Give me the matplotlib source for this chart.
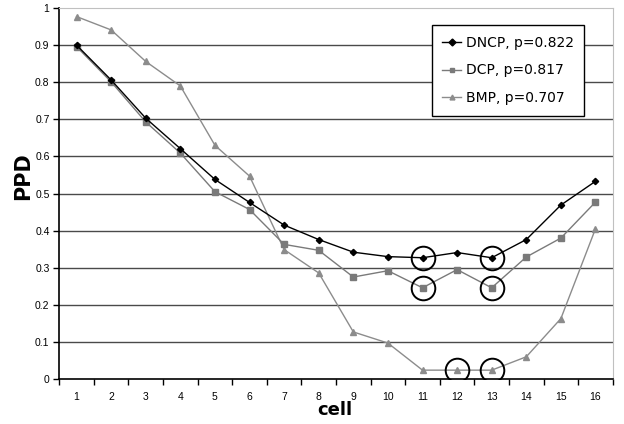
import matplotlib
matplotlib.use("Agg")
import matplotlib.pyplot as plt
from matplotlib.ticker import FixedLocator, NullFormatter

cells = list(range(1, 17))
dncp = [0.900, 0.806, 0.703, 0.621, 0.538, 0.476, 0.415, 0.376, 0.342, 0.330,
        0.327, 0.341, 0.327, 0.376, 0.469, 0.533]
dcp = [0.896, 0.801, 0.693, 0.609, 0.505, 0.457, 0.363, 0.347, 0.275, 0.292,
       0.246, 0.295, 0.246, 0.329, 0.380, 0.477]
bmp = [0.977, 0.941, 0.856, 0.790, 0.630, 0.547, 0.349, 0.286, 0.127, 0.097,
       0.024, 0.024, 0.024, 0.060, 0.163, 0.405]
labels = ["DNCP, p=0.822", "DCP, p=0.817", "BMP, p=0.707"]
circled = {"dncp": [11, 13], "dcp": [11, 13], "bmp": [12, 13]}
yticks = [0, 0.1, 0.2, 0.3, 0.4, 0.5, 0.6, 0.7, 0.8, 0.9, 1]
ytick_labels = ["0", "0.1", "0.2", "0.3", "0.4", "0.5", "0.6", "0.7", "0.8", "0.9", "1"]

fig = plt.figure(figsize=(6.24, 4.24), dpi=100)
ax = fig.add_axes([0.095, 0.106, 0.887, 0.875])

for y in yticks[1:-1]:
    ax.axhline(y, color="#4a4a4a", lw=1.0, zorder=1)

ax.plot(cells, bmp, color="#8c8c8c", lw=1.0, marker="^", ms=4.5,
        mfc="#8c8c8c", mec="#8c8c8c", label=labels[2], zorder=3)
ax.plot(cells, dcp, color="#7a7a7a", lw=1.0, marker="s", ms=4.0,
        mfc="#7a7a7a", mec="#7a7a7a", label=labels[1], zorder=4)
ax.plot(cells, dncp, color="black", lw=1.0, marker="D", ms=3.2,
        mfc="black", mec="black", label=labels[0], zorder=5)

series = {"dncp": dncp, "dcp": dcp, "bmp": bmp}
for key, idxs in circled.items():
    xs = idxs
    ys = [series[key][i - 1] for i in idxs]
    ax.plot(xs, ys, ls="none", marker="o", ms=17, mfc="none", mec="black",
            mew=1.4, zorder=6)

ax.set_xlim(0.5, 16.5)
ax.set_ylim(0, 1)
ax.set_yticks(yticks)
ax.set_yticklabels(ytick_labels, fontsize=7.5, family="Liberation Sans")
ax.set_xticks(cells)
ax.set_xticklabels([str(c) for c in cells], fontsize=7.5, family="Liberation Sans")
ax.tick_params(axis="x", which="major", length=0, pad=9)
ax.xaxis.set_minor_locator(FixedLocator([c + 0.5 for c in range(0, 17)]))
ax.xaxis.set_minor_formatter(NullFormatter())
ax.tick_params(axis="x", which="minor", length=4, width=1, direction="out", color="black")
ax.tick_params(axis="y", length=4, width=1, direction="out", pad=3)

ax.spines["left"].set_color("black")
ax.spines["bottom"].set_color("black")
ax.spines["left"].set_linewidth(1.2)
ax.spines["bottom"].set_linewidth(1.2)
ax.spines["top"].set_color("#c0c0c0")
ax.spines["right"].set_color("#c0c0c0")

ax.set_ylabel("PPD", fontsize=15, fontweight="bold", family="DejaVu Sans")
ax.yaxis.set_label_coords(-0.0475, 0.547)
ax.set_xlabel("cell", fontsize=13, fontweight="bold", family="DejaVu Sans")
ax.xaxis.set_label_coords(0.498, -0.058)

h, l = ax.get_legend_handles_labels()
order = [2, 1, 0]
leg = ax.legend([h[i] for i in order], [l[i] for i in order],
                loc="upper right", bbox_to_anchor=(0.948, 0.954),
                fontsize=10, frameon=True, fancybox=False, framealpha=1,
                edgecolor="black", handlelength=1.4, handletextpad=0.3,
                labelspacing=1.0, borderpad=0.75, borderaxespad=0)
leg.get_frame().set_linewidth(1.0)
leg.set_zorder(7)
for lh in leg.legend_handles:
    lh.set_markersize(3.5)

fig.savefig("out.png", dpi=100, facecolor="white")
